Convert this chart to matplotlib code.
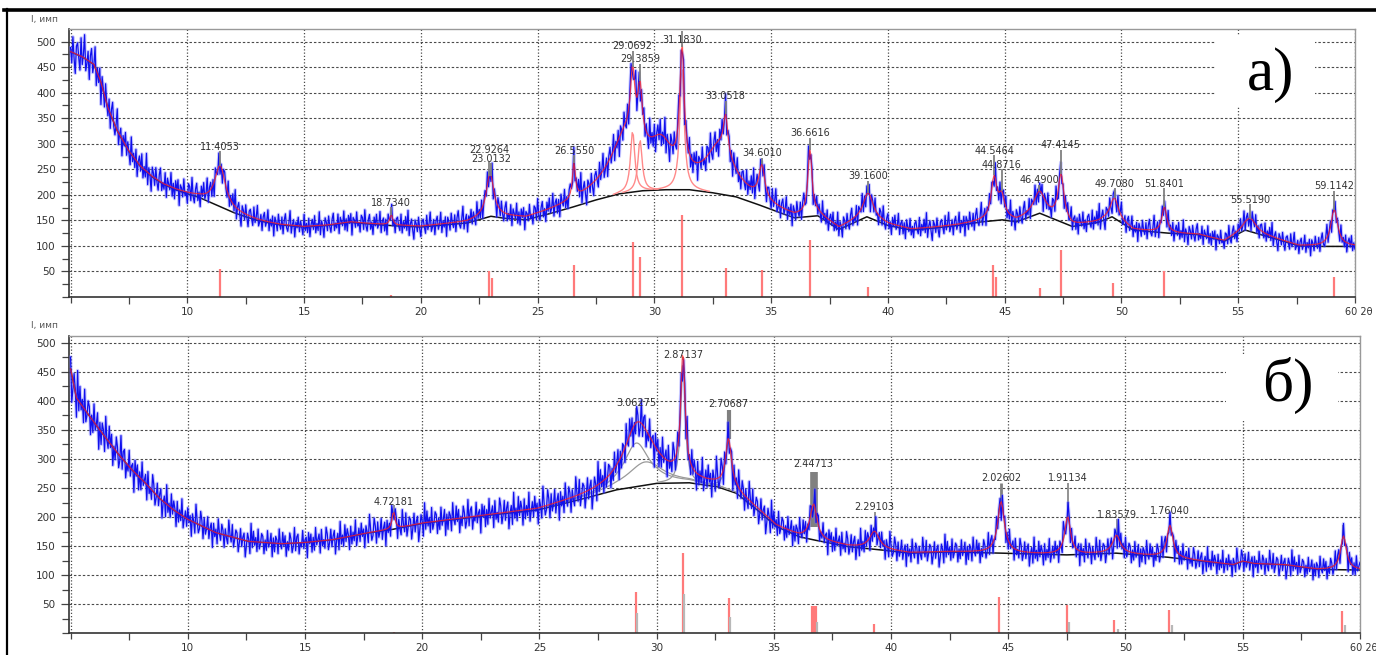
import numpy as np
import matplotlib
matplotlib.use("Agg")
import matplotlib.pyplot as plt
from matplotlib.lines import Line2D
from matplotlib.patches import Rectangle
from matplotlib.ticker import MultipleLocator, FixedLocator, NullFormatter

STEP = 0.05            # 2θ step of the scan, degrees
WAVELENGTH = 1.5406    # Cu Kα, Å

# ---------------- pattern a) ----------------
bg_a_x = [5.0, 5.5, 6.0, 6.3, 6.6, 7.0, 7.5, 8.0, 8.5, 9.0, 9.5, 10.0, 10.5, 11.0, 11.5,
          12.0, 12.5, 13.0, 13.5, 14.0, 15.0, 16.0, 17.0, 18.0, 19.0, 20.0, 21.0, 22.0,
          23.0, 23.6, 24.5, 25.5, 26.5, 27.5, 28.5, 29.5, 30.5, 31.5, 32.5, 33.5, 34.5,
          35.5, 36.0, 37.0, 37.9, 39.1, 40.0, 41.0, 42.0, 43.0, 44.0, 44.9, 45.5, 46.5,
          47.9, 49.0, 49.6, 50.5, 52.0, 53.3, 54.4, 55.3, 56.5, 57.6, 58.5, 60.0]
bg_a_y = [480, 470, 455, 420, 370, 325, 285, 255, 235, 220, 210, 202, 195, 185, 175,
          165, 157, 150, 145, 141, 137, 140, 146, 142, 139, 137, 141, 145,
          158, 154, 151, 163, 176, 190, 202, 208, 210, 210, 204, 196, 180,
          163, 155, 159, 132, 157, 140, 131, 135, 140, 147, 151, 147, 164,
          138, 146, 157, 131, 125, 122, 109, 131, 115, 100, 99, 99]

a_peak_2theta = [11.4053, 18.7340, 22.9264, 23.0132, 26.5550, 29.0692, 29.3859, 31.1830,
                 33.0518, 34.6010, 36.6616, 39.1600, 44.5464, 44.8716, 46.4900, 47.4145,
                 49.7080, 51.8401, 55.5190, 59.1142]
a_peak_height = [80, 20, 50, 35, 70, 120, 100, 240, 75, 65, 130, 45, 80, 40, 40, 90,
                 38, 50, 25, 72]
a_peak_fwhm = [0.55, 0.15, 0.35, 0.35, 0.15, 0.22, 0.22, 0.22, 0.22, 0.30, 0.20, 0.50,
               0.30, 0.30, 0.60, 0.30, 0.40, 0.25, 0.60, 0.35]
a_label_y = [294, 184, 287, 271, 286, 492, 466, 503, 393, 282, 321, 237, 286, 258, 229,
             297, 221, 221, 190, 217]
a_marker_top = [285, 176, 265, 262, 277, 482, 457, 520, 383, 272, 312, 228, 277, 250,
                220, 287, 213, 213, 182, 208]
# broad amorphous contributions under the 28–33° region
a_broad_2theta = [28.85, 30.3, 32.8]
a_broad_height = [110, 65, 85]
a_broad_fwhm = [1.8, 1.2, 1.4]
# components drawn individually
a_component_idx = [5, 6, 7]

# reference phase lines
a_ref_2theta = [11.40, 18.73, 22.93, 23.05, 26.56, 29.07, 29.39, 31.18, 33.05, 34.60,
                36.66, 39.16, 44.50, 44.64, 46.50, 47.42, 49.62, 51.84, 59.10]
a_ref_height = [55, 3, 50, 38, 63, 108, 78, 161, 56, 52, 112, 20, 62, 40, 17, 91, 27,
                50, 40]

# ---------------- pattern б) ----------------
bg_b_x = [5.0, 5.25, 5.6, 6.2, 7.0, 7.6, 8.2, 8.8, 9.4, 10.0, 11.2, 12.6, 14.0, 15.0,
          16.2, 17.6, 18.75, 20.0, 21.6, 23.0, 24.9, 26.9, 28.3, 30.0, 31.4, 32.6, 33.4,
          34.3, 35.1, 36.1, 36.8, 38.2, 39.7, 40.8, 42.5, 44.7, 47.5, 49.6, 51.8, 53.5,
          54.6, 55.0, 55.5, 56.8, 58.2, 60.0]
bg_b_y = [455, 405, 385, 352, 310, 282, 258, 232, 212, 196, 173, 158, 154, 156,
          161, 172, 179, 189, 197, 204, 212, 232, 247, 258, 259, 252, 241,
          212, 184, 166, 160, 149, 143, 138, 140, 138, 135, 138, 131, 123,
          118, 124, 120, 118, 110, 109]

b_d_labels = ["4.72181", "3.06275", "2.87137", "2.70687", "2.44713", "2.29103",
              "2.02602", "1.91134", "1.83579", "1.76040"]
b_peak_height = [30, 75, 210, 85, 60, 30, 88, 65, 30, 55]
b_peak_fwhm = [0.15, 1.3, 0.22, 0.30, 0.35, 0.50, 0.35, 0.30, 0.40, 0.30]
b_label_y = [226, 396, 479, 394, 291, 217, 267, 267, 204, 211]
b_marker_top = [220, 388, 470, 385, 278, 208, 258, 258, 196, 203]
b_marker_width = [1.2, 1.2, 1.2, 3.0, 5.5, 1.2, 2.0, 1.2, 1.2, 1.2]
# unlabeled contributions
b_extra_2theta = [29.5, 59.3]
b_extra_height = [40, 58]
b_extra_fwhm = [1.8, 0.3]
b_extra_marker_top = [None, 186]

b_ref_2theta = [18.78, 29.13, 31.12, 33.07, 36.62, 36.68, 36.74, 36.80, 39.29, 44.62,
                47.50, 49.52, 51.85, 59.25]
b_ref_height = [3, 72, 138, 60, 47, 47, 47, 47, 17, 63, 49, 23, 40, 39]
b_ref2_2theta = [29.17, 31.16, 33.12, 36.86, 47.58, 49.68, 51.98, 59.38]
b_ref2_height = [35, 67, 29, 20, 20, 8, 15, 15]

# counting scatter of the scan (counts at a level of ~150)
residuals = [3, -8, 12, -4, -15, 6, 9, -2, -11, 14, -6, 2, 18, -9, -3, 7, -14, 5, 11, -7,
             0, 16, -12, 4, -5, 9, -18, 8, 2, -10, 13, -1, -7, 10, -13, 6, 15, -4, -9, 3,
             20, -11, 1, 8, -16, 5, -3, 12, -8, 7, -2, -12, 17, -6, 4, -9, 11, -15, 2, 9,
             -5, 14, -10, 3, -7, 19, -13, 6, -1, -17, 10, 4, -8, 12, -3, -11, 7, 15, -9, 1,
             -6, 13, -14, 8, 2, -4, 16, -10, 5, -12, 9, -2, 11, -18, 6, 3, -7, 14, -5, 0,
             -13, 10, 7, -9, 18, -4, -11, 5, 12, -8, 2, -15, 9, -3, 13, -6, -1, 17, -12, 4,
             8, -10, 6, -16, 11, 1, -5, 14, -9, 3, -13, 7, 10, -2, -8, 15, -11, 5, -4, 12,
             -7, 21, -14, 2, 9, -6, -19, 8]

BLUE = "#1010ee"
RED = "#ff2020"
REF_RED = "#ff7a7a"
MARK_GRAY = "#808080"
TXT = "#333333"
NOISE_SCALE = 1.45


def lorentz(x, pos, height, fwhm):
    return height / (1.0 + ((x - pos) / (fwhm / 2.0)) ** 2)


def bragg_2theta(d):
    return 2.0 * np.degrees(np.arcsin(WAVELENGTH / (2.0 * d)))


def style_axes(ax, ymax, xmax):
    ax.set_xlim(4.93, xmax)
    ax.set_ylim(0, ymax)
    ax.set_axisbelow(True)
    ax.xaxis.set_major_locator(FixedLocator(list(range(5, 61, 5))))
    ax.set_xticklabels([""] + [str(v) for v in range(10, 56, 5)] + [""])
    ax.xaxis.set_minor_locator(MultipleLocator(2.5))
    ax.yaxis.set_major_locator(FixedLocator(list(range(50, 501, 50))))
    ax.yaxis.set_minor_locator(MultipleLocator(25))
    ax.yaxis.set_minor_formatter(NullFormatter())
    ax.tick_params(axis="both", which="both", direction="out", colors="#444444",
                   labelsize=7.5, labelcolor=TXT)
    ax.tick_params(axis="y", which="major", length=6, width=0.9)
    ax.tick_params(axis="y", which="minor", length=5, width=0.9)
    ax.tick_params(axis="x", which="major", length=4, width=0.9, pad=3)
    ax.tick_params(axis="x", which="minor", length=5, width=0.9)
    ax.grid(axis="y", which="major", color="#4a4a4a", lw=0.8, ls=(0, (2.2, 1.8)))
    ax.grid(axis="x", which="major", color="#4a4a4a", lw=0.9, ls=(0, (1.0, 1.6)))
    for side in ("left", "bottom"):
        ax.spines[side].set_color("#333333")
        ax.spines[side].set_linewidth(1.2)
    for side in ("top", "right"):
        ax.spines[side].set_color("#999999")
        ax.spines[side].set_linewidth(1.0)
    ax.annotate("60 2θ", xy=(60, 0), xycoords=("data", "axes fraction"),
                xytext=(-7, -7), textcoords="offset points", ha="left", va="top",
                fontsize=7, color=TXT, annotation_clip=False)
    ax.annotate("I, имп", xy=(0, 1), xycoords="axes fraction", xytext=(-27, 4),
                textcoords="offset points", ha="left", va="bottom", fontsize=6.5,
                color="#555555", annotation_clip=False)


fig = plt.figure(figsize=(13.76, 6.55), dpi=100)
ax_a = fig.add_axes([0.0501, 0.5466, 0.9346, 0.4086])
ax_b = fig.add_axes([0.0501, 0.0330, 0.9382, 0.4545])

# frame lines of the figure plate
fig.add_artist(Line2D([0.003, 1.0], [0.985, 0.985], color="black", lw=2.6,
                      transform=fig.transFigure))
fig.add_artist(Line2D([0.0052, 0.0052], [0.0, 0.987], color="black", lw=1.6,
                      transform=fig.transFigure))

x = np.arange(5.0, 60.0 + STEP / 2, STEP)

# ---------- panel a ----------
style_axes(ax_a, 524, 60.0)
bg_a = np.interp(x, bg_a_x, bg_a_y)
fit_a = bg_a.copy()
for p, h, w in zip(a_peak_2theta, a_peak_height, a_peak_fwhm):
    fit_a += lorentz(x, p, h, w)
for p, h, w in zip(a_broad_2theta, a_broad_height, a_broad_fwhm):
    fit_a += lorentz(x, p, h, w)
noise_a = np.resize(np.array(residuals, float), x.size) * NOISE_SCALE * np.sqrt(fit_a / 150.0)
obs_a = fit_a + noise_a

ax_a.vlines(a_ref_2theta, 0, a_ref_height, color=REF_RED, lw=1.6, zorder=2)
ax_a.plot(bg_a_x, bg_a_y, color="#111111", lw=1.1, zorder=3)
for i in a_component_idx:
    comp = bg_a + lorentz(x, a_peak_2theta[i], a_peak_height[i], a_peak_fwhm[i])
    sel = comp > bg_a + 2
    ax_a.plot(x[sel], comp[sel], color="#ff8a8a", lw=1.0, zorder=3)
ax_a.plot(x, obs_a, color="#7070ff", lw=2.4, alpha=0.35, zorder=4)
ax_a.plot(x, obs_a, color=BLUE, lw=0.9, zorder=5)
ax_a.plot(x, fit_a, color=RED, lw=0.9, alpha=0.75, zorder=6)
for p, ly, top in zip(a_peak_2theta, a_label_y, a_marker_top):
    base = np.interp(p, x, fit_a)
    ax_a.vlines(p, base, top, color=MARK_GRAY, lw=1.3, zorder=7)
    ax_a.text(p, ly, f"{p:.4f}", ha="center", va="center", fontsize=7, color=TXT,
              zorder=8)
ax_a.add_patch(Rectangle((54.04, 372), 4.27, 138, facecolor="white", edgecolor="none",
                         zorder=1.5))
ax_a.text(56.39, 435, "a)", ha="center", va="center", fontsize=44,
          family="Liberation Serif", color="black", zorder=9)

# ---------- panel б ----------
style_axes(ax_b, 512, 60.0)
b_peak_2theta = [bragg_2theta(float(d)) for d in b_d_labels]
bg_b = np.interp(x, bg_b_x, bg_b_y)
fit_b = bg_b.copy()
components_b = []
for p, h, w in zip(b_peak_2theta + b_extra_2theta, b_peak_height + b_extra_height,
                   b_peak_fwhm + b_extra_fwhm):
    c = lorentz(x, p, h, w)
    components_b.append(c)
    fit_b += c
noise_b = np.resize(np.array(residuals[::-1], float), x.size) * NOISE_SCALE * np.sqrt(fit_b / 150.0)
obs_b = fit_b + noise_b

ax_b.vlines(b_ref_2theta, 0, b_ref_height, color=REF_RED, lw=1.6, zorder=2)
ax_b.vlines(b_ref2_2theta, 0, b_ref2_height, color="#b8b8b8", lw=1.6, zorder=2.1)
ax_b.plot(bg_b_x, bg_b_y, color="#111111", lw=1.1, zorder=3)
for c in components_b:
    sel = c > 2
    ax_b.plot(x[sel], (bg_b + c)[sel], color="#9a9a9a", lw=0.9, zorder=3)
for p, top, lw in zip(b_peak_2theta, b_marker_top, b_marker_width):
    base = np.interp(p, x, fit_b)
    ax_b.vlines(p, base - (40 if lw > 5 else 0), top, color=MARK_GRAY, lw=lw, zorder=3.5)
for p, top in zip(b_extra_2theta, b_extra_marker_top):
    if top is not None:
        ax_b.vlines(p, np.interp(p, x, fit_b), top, color=MARK_GRAY, lw=1.2, zorder=3.5)
ax_b.plot(x, obs_b, color="#7070ff", lw=2.4, alpha=0.35, zorder=4)
ax_b.plot(x, obs_b, color=BLUE, lw=0.9, zorder=5)
ax_b.plot(x, fit_b, color=RED, lw=0.9, alpha=0.75, zorder=6)
for p, lab, ly in zip(b_peak_2theta, b_d_labels, b_label_y):
    ax_b.text(p, ly, lab, ha="center", va="center", fontsize=7, color=TXT, zorder=8)
ax_b.add_patch(Rectangle((54.27, 365), 4.78, 115, facecolor="white", edgecolor="none",
                         zorder=1.5))
ax_b.text(56.91, 427, "б)", ha="center", va="center", fontsize=44,
          family="Liberation Serif", color="black", zorder=9)

fig.savefig("out.png", dpi=100)
